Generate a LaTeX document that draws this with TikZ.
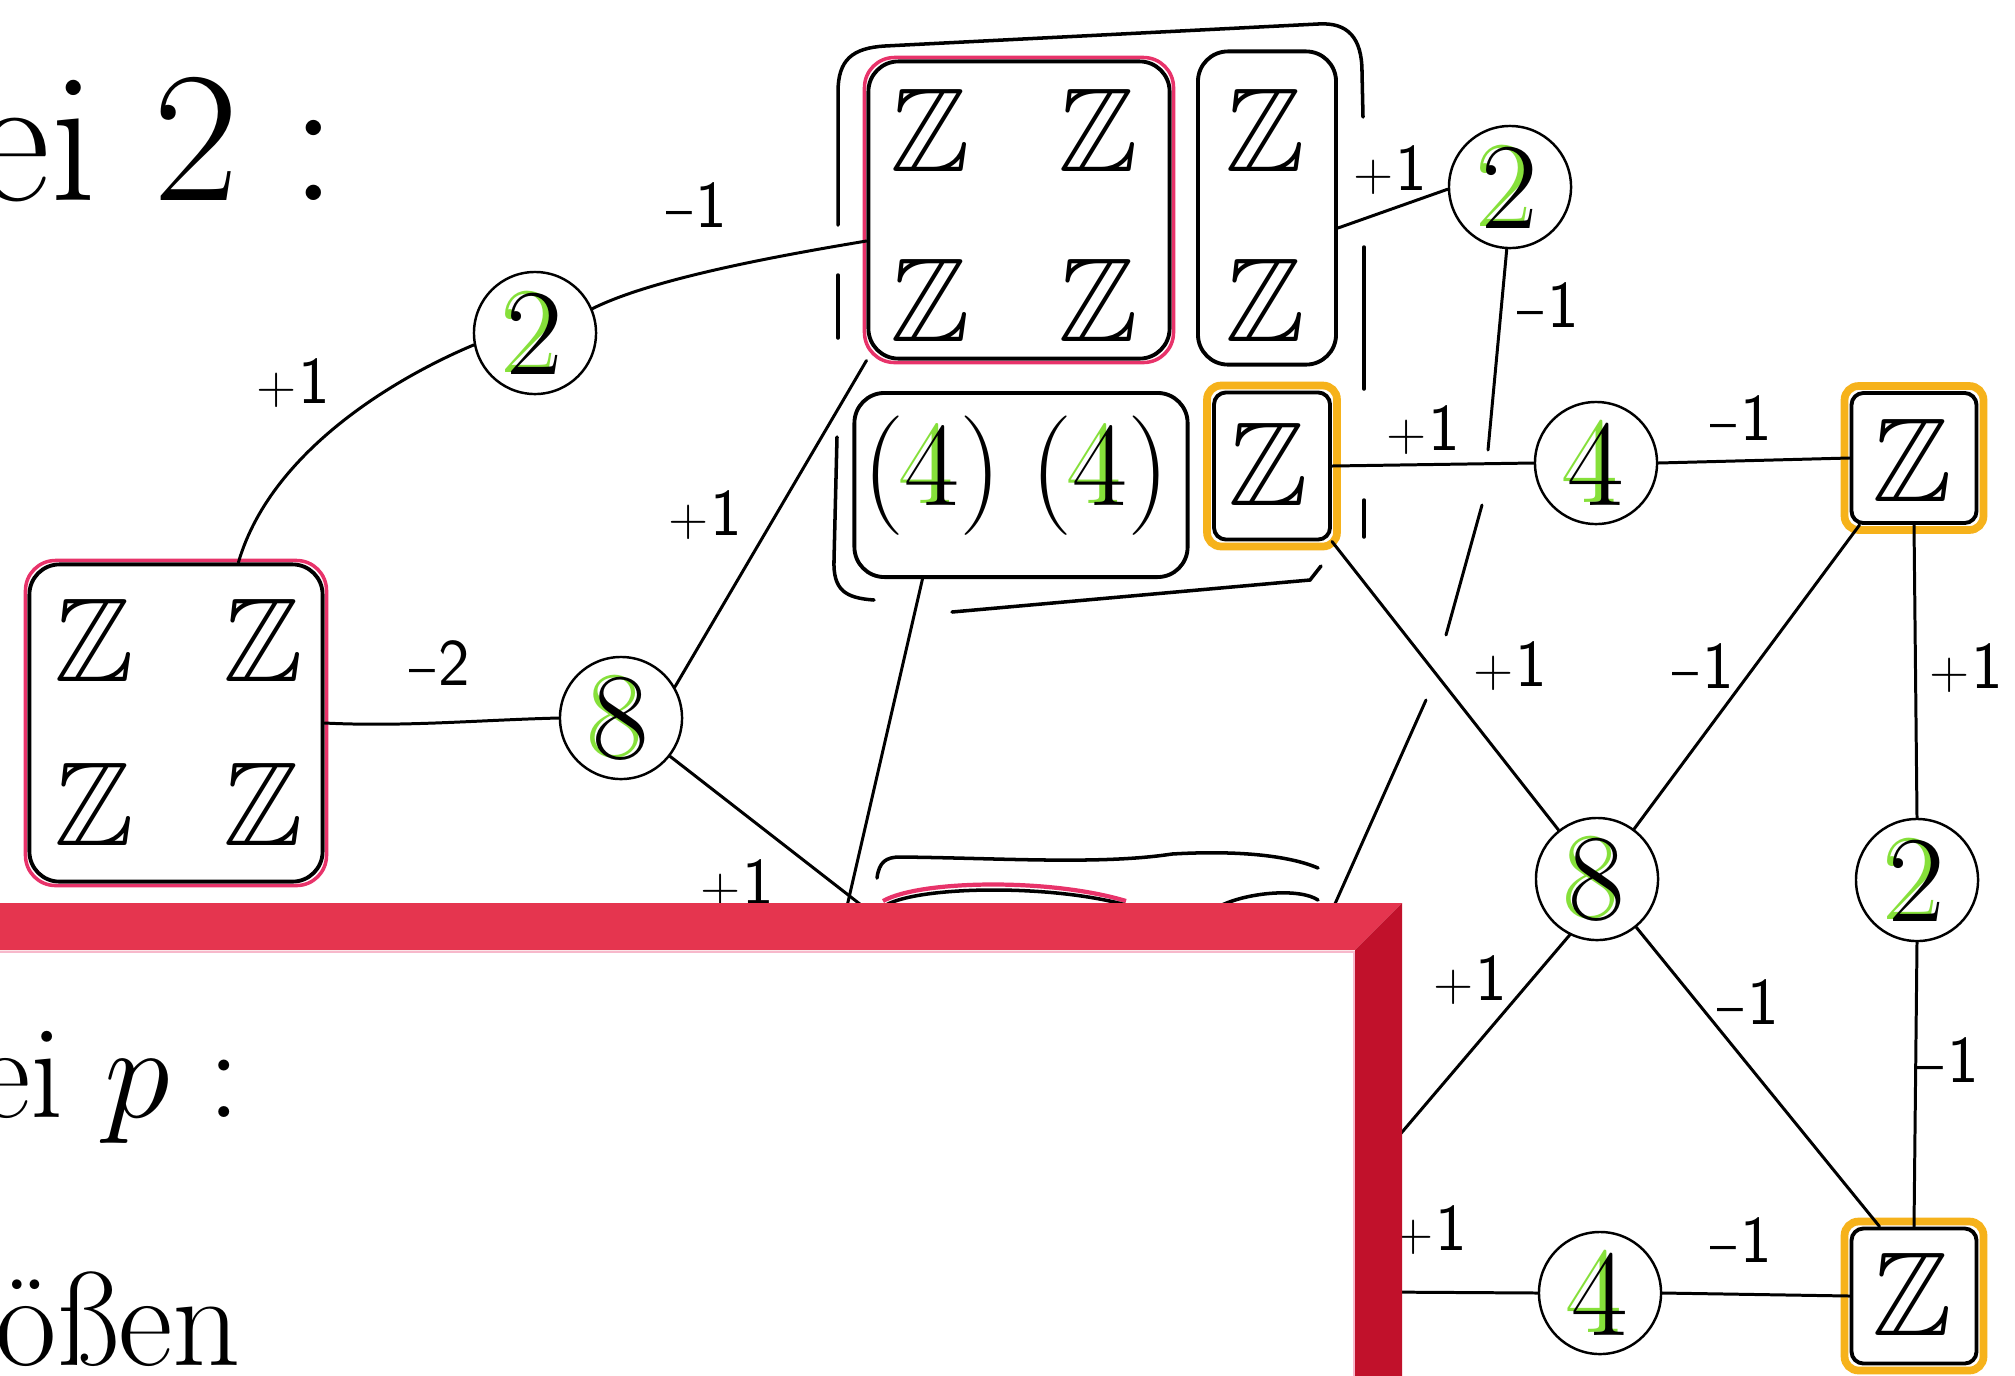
\RequirePackage{fix-cm}
\documentclass[tikz,border=0pt]{standalone}
\usepackage{amssymb}
\usetikzlibrary{calc}
\definecolor{pinkred}{HTML}{E8336A}
\definecolor{marker}{HTML}{F6B21B}
\definecolor{grn}{HTML}{86E03A}
\definecolor{frametop}{HTML}{E5354F}
\definecolor{frameside}{HTML}{C1112B}
\newcommand{\gnum}[1]{\makebox[0pt][l]{\kern-0.05em\raisebox{0.02em}{\color{grn}#1}}#1}
\newcommand{\ZZ}{$\mathbb{Z}$}
\newcommand{\pl}{{\fontsize{15}{15}\selectfont +}\kern0.5pt}
\newcommand{\mi}{{\fontsize{15}{15}\selectfont --}\kern1pt}
\tikzset{
  conn/.style={line width=0.85pt, line cap=round},
  circ/.style={circle, draw, line width=0.7pt, minimum size=1.22cm, inner sep=0pt, font=\fontsize{35}{35}\selectfont},
  zbox/.style={draw, line width=1.1pt, rounded corners=0.3cm, inner sep=0pt},
  obox/.style={draw, line width=1.1pt, rounded corners=0.12cm, inner sep=0pt},
  zz/.style={inner sep=0pt, font=\fontsize{34}{34}\selectfont},
  lab/.style={inner sep=0pt, font=\fontsize{19}{19}\selectfont\sffamily},
  pinkline/.style={pinkred, line width=1pt, rounded corners=0.3cm},
  orangeline/.style={marker, line width=2.2pt, rounded corners=0.14cm},
}
\begin{document}
\begin{tikzpicture}[x=0.01cm,y=-0.01cm]
\useasboundingbox (0,0) rectangle (2015,1375);
\clip (0,0) rectangle (2015,1375);
\fill[white] (0,0) rectangle (2015,1375);

% title
\node[anchor=base west, inner sep=0pt, font=\fontsize{53}{53}\selectfont] (title) at (-26,200) {ei $2:$};

% ---------- boxes ----------
\node[zbox, minimum width=2.93cm, minimum height=3.17cm] (L4Z) at (176,723) {};
\draw[pinkline] ($(L4Z.south west)+(-2,2)$) rectangle ($(L4Z.north east)+(2,-2)$);
\node[zz] (lz1) at (94,640) {\ZZ};
\node[zz] (lz2) at (263,640) {\ZZ};
\node[zz] (lz3) at (94,804) {\ZZ};
\node[zz] (lz4) at (263,804) {\ZZ};

\node[zbox, minimum width=3.01cm, minimum height=2.97cm] (T4Z) at (1019,210) {};
\draw[pinkline] ($(T4Z.south west)+(-2,2)$) rectangle ($(T4Z.north east)+(2,-2)$);
\node[zz] (tz1) at (930,130) {\ZZ};
\node[zz] (tz2) at (1098,130) {\ZZ};
\node[zz] (tz3) at (930,300) {\ZZ};
\node[zz] (tz4) at (1098,300) {\ZZ};

\node[zbox, minimum width=1.38cm, minimum height=3.13cm] (T2Z) at (1267,208) {};
\node[zz] (sz1) at (1265,130) {\ZZ};
\node[zz] (sz2) at (1265,300) {\ZZ};

\node[zbox, minimum width=3.33cm, minimum height=1.84cm] (B44) at (1021,485) {};
\node[zz] (p1) at (932,476) {(\gnum{4})};
\node[zz] (p2) at (1100,476) {(\gnum{4})};

\node[obox, minimum width=1.16cm, minimum height=1.47cm] (OZ1) at (1272,466) {};
\draw[orangeline] ($(OZ1.south west)+(-5,5)$) rectangle ($(OZ1.north east)+(5,-5)$);
\node[zz] (oz1) at (1268,464) {\ZZ};

\node[obox, minimum width=1.25cm, minimum height=1.30cm] (OZ2) at (1914,458) {};
\draw[orangeline] ($(OZ2.south west)+(-5,5)$) rectangle ($(OZ2.north east)+(5,-5)$);
\node[zz] (oz2) at (1912,460) {\ZZ};

\node[obox, minimum width=1.25cm, minimum height=1.35cm] (OZ3) at (1914,1296) {};
\draw[orangeline] ($(OZ3.south west)+(-5,5)$) rectangle ($(OZ3.north east)+(5,-5)$);
\node[zz] (oz3) at (1912,1294) {\ZZ};

% outer bracket around the top group
\draw[conn, line width=1pt] (838,225) -- (838,92) .. controls (838,60) and (852,48) .. (885,46) -- (1318,24) .. controls (1348,22) and (1362,38) .. (1362,72) -- (1363,117);
\draw[conn, line width=1pt] (838,275) -- (838,338);
\draw[conn, line width=1pt] (837,437) -- (834,560) .. controls (833,590) and (845,598) .. (874,600);
\draw[conn, line width=1pt] (952,612) -- (1310,580) -- (1321,566);
\draw[conn, line width=1pt] (1364,247) -- (1364,389);
\draw[conn, line width=1pt] (1364,500) -- (1364,537);

% ---------- circles ----------
\node[circ] (A2) at (535,333) {\gnum{2}};
\node[circ] (C8a) at (621,718) {\gnum{8}};
\node[circ] (C2t) at (1510,187) {\gnum{2}};
\node[circ] (C4) at (1596,463) {\gnum{4}};
\node[circ] (C8b) at (1597,879) {\gnum{8}};
\node[circ] (C2r) at (1917,880) {\gnum{2}};
\node[circ] (C4b) at (1600,1293) {\gnum{4}};

% ---------- free ends ----------
\coordinate (endA) at (874,915);
\coordinate (endB) at (845,915);
\coordinate (endC) at (1330,915);
\coordinate (endD) at (1380,1158);
\coordinate (endE) at (1380,1292);
\coordinate (c2a) at (1488,450);
\coordinate (c2b) at (1482,505);
\coordinate (c2c) at (1446,635);
\coordinate (c2d) at (1426,700);

% ---------- connectors ----------
\draw[conn] ($(L4Z.north west)!0.71!(L4Z.north east)$) .. controls +(35,-120) and +(-60,25) .. (A2.191);
\draw[conn] (A2.23) .. controls +(60,-30) and +(-90,15) .. ($(T4Z.west)+(0,31)$);
\draw[conn] (L4Z.east) .. controls +(80,4) and +(-80,2) .. (C8a.west);
\draw[conn] (C8a.30) -- (T4Z.south west);
\draw[conn] (C8a.-38) -- (endA);
\draw[conn] ($(B44.south west)+(70,0)$) -- (endB);
\draw[conn] ($(T2Z.east)+(0,20)$) -- (C2t.182);
\draw[conn] (C2t.267) -- (c2a);
\draw[conn] (c2b) -- (c2c);
\draw[conn] (c2d) -- (endC);
\draw[conn] (OZ1.east) -- (C4.west);
\draw[conn] (C4.east) -- (OZ2.west);
\draw[conn] (OZ1.south east) -- (C8b);
\draw[conn] ($(OZ2.south west)+(10,0)$) -- (C8b);
\draw[conn] (OZ2.south) -- (C2r.north);
\draw[conn] (C2r.south) -- (OZ3.north);
\draw[conn] (C8b) -- ($(OZ3.north west)+(30,0)$);
\draw[conn] (C8b.244) -- (endD);
\draw[conn] (C4b.west) -- (endE);
\draw[conn] (C4b.east) -- (OZ3.west);

% lower group (mostly hidden)
\draw[conn, line width=1pt] (877,878) .. controls (879,862) and (886,857) .. (900,857) .. controls (1000,858) and (1100,865) .. (1172,854) .. controls (1240,850) and (1290,856) .. (1318,868);
\draw[pinkred, line width=1.2pt] (883,901) .. controls (920,880) and (1050,878) .. (1126,901);
\draw[conn, line width=1pt] (886,905) .. controls (920,886) and (1050,884) .. (1126,905);
\draw[conn, line width=1pt] (1222,905) .. controls (1250,892) and (1300,888) .. (1318,900);

% ---------- labels ----------
\node[lab] (l1) at (293,383) {\pl1};
\node[lab] (l2) at (697,205) {\mi1};
\node[lab] (l3) at (440,663) {\mi2};
\node[lab] (l4) at (705,515) {\pl1};
\node[lab] (l5) at (737,884) {\pl1};
\node[lab] (l6) at (1390,170) {\pl1};
\node[lab] (l7) at (1548,305) {\mi1};
\node[lab] (l8) at (1423,430) {\pl1};
\node[lab] (l9) at (1741,418) {\mi1};
\node[lab] (l10) at (1510,666) {\pl1};
\node[lab] (l11) at (1703,666) {\mi1};
\node[lab] (l12) at (1966,668) {\pl1};
\node[lab] (l13) at (1948,1060) {\mi1};
\node[lab] (l14) at (1748,1002) {\mi1};
\node[lab] (l15) at (1470,980) {\pl1};
\node[lab] (l16) at (1741,1240) {\mi1};
\node[lab] (l17) at (1430,1230) {\pl1};

% ---------- overlay frame ----------
\fill[white] (-10,950) rectangle (1355,1385);
\fill[frametop] (-10,903) -- (1402,903) -- (1355,950) -- (-10,950) -- cycle;
\fill[frameside] (1402,903) -- (1402,1385) -- (1355,1385) -- (1355,950) -- cycle;
\draw[pinkred!35, line width=0.8pt] (-10,952) -- (1354,952) -- (1354,1385);

\node[anchor=base west, inner sep=0pt, font=\fontsize{38}{38}\selectfont] (sub1) at (-24,1117) {ei $p:$};
\node[anchor=base west, inner sep=0pt, font=\fontsize{38}{38}\selectfont] (sub2) at (-5,1365) {ößen};
\end{tikzpicture}
\end{document}
